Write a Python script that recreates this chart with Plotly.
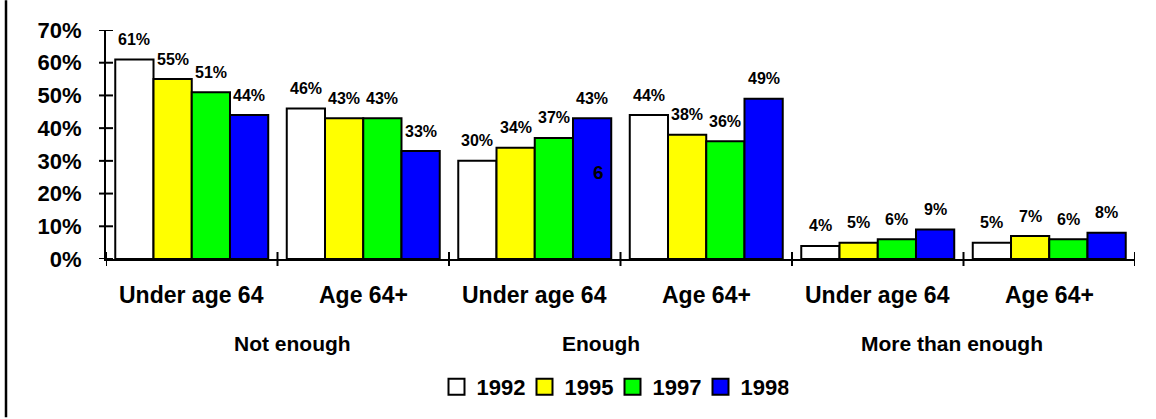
import plotly.graph_objects as go

subcats = ["Under age 64", "Age 64+", "Under age 64", "Age 64+", "Under age 64", "Age 64+"]
maincats = ["Not enough", "Enough", "More than enough"]
years = ["1992", "1995", "1997", "1998"]
v1992 = [61, 46, 30, 44, 4, 5]
v1995 = [55, 43, 34, 38, 5, 7]
v1997 = [51, 43, 37, 36, 6, 6]
v1998 = [44, 33, 43, 49, 9, 8]
series = [v1992, v1995, v1997, v1998]
colors = ["#FFFFFF", "#FFFF00", "#00FF00", "#0000FF"]
yticks = [0, 10, 20, 30, 40, 50, 60, 70]

FONT = "Liberation Sans, Arial, sans-serif"
BARGAP = 0.108
bw = (1 - BARGAP) / len(years)
main_shift = [15, -20, -12]

fig = go.Figure()
xs = list(range(len(subcats)))
for name, vals, c in zip(years, series, colors):
    fig.add_trace(go.Bar(x=xs, y=vals, name=name, marker=dict(color=c, line=dict(color="black", width=2)),
                         showlegend=False, hoverinfo="skip"))
    fig.add_trace(go.Scatter(x=[None], y=[None], mode="markers", name=name,
                             marker=dict(symbol="square", size=16, color=c, line=dict(color="black", width=2))))

ann = []
for j, vals in enumerate(series):
    for i, v in enumerate(vals):
        ann.append(dict(x=i + (j - 1.5) * bw, y=v, xref="x", yref="y", text=f"{v}%", showarrow=False,
                        yanchor="middle", yshift=20, font=dict(family=FONT, size=16, color="black", weight="bold")))
# stray label in the reference
ann.append(dict(x=2 + 1.5 * bw, y=26.5, xref="x", yref="y", text="6", showarrow=False, xshift=6,
                font=dict(family=FONT, size=19, color="black", weight="bold")))
for i, s in enumerate(subcats):
    ann.append(dict(x=i, y=0, xref="x", yref="paper", text=s, showarrow=False, yanchor="middle", yshift=-36,
                    font=dict(family=FONT, size=23, color="black", weight="bold")))
for k, m in enumerate(maincats):
    ann.append(dict(x=2 * k + 0.5, y=0, xref="x", yref="paper", text=m, showarrow=False, yanchor="middle",
                    yshift=-84, xshift=main_shift[k],
                    font=dict(family=FONT, size=21, color="black", weight="bold")))

shapes = []
for t in yticks:
    shapes.append(dict(type="line", xref="paper", xsizemode="pixel", xanchor=0, x0=-7, x1=7,
                       yref="y", y0=t, y1=t, line=dict(color="black", width=2)))
for b in [i - 0.5 for i in range(len(subcats) + 1)]:
    shapes.append(dict(type="line", yref="paper", ysizemode="pixel", yanchor=0, y0=-7, y1=7,
                       xref="x", x0=b, x1=b, line=dict(color="black", width=2)))
shapes.append(dict(type="line", xref="paper", xsizemode="pixel", xanchor=0, x0=-100, x1=-100,
                   yref="paper", y0=-159 / 230, y1=260 / 230, line=dict(color="black", width=2.5)))

fig.update_layout(
    width=1156, height=419,
    margin=dict(l=106, r=21, t=30, b=159),
    plot_bgcolor="white", paper_bgcolor="white",
    barmode="group", bargap=BARGAP, bargroupgap=0,
    hovermode=False,
    xaxis=dict(range=[-0.5, 5.5], showticklabels=False, ticks="", showgrid=False, zeroline=False,
               showline=True, linecolor="black", linewidth=2, fixedrange=True),
    yaxis=dict(range=[0, 70], tickvals=yticks, ticktext=[f"{t}%" for t in yticks], ticks="",
               showgrid=False, zeroline=False, showline=True, linecolor="black", linewidth=2, fixedrange=True,
               ticklabelstandoff=18, tickfont=dict(family=FONT, size=22, color="black", weight="bold")),
    legend=dict(orientation="h", x=0.5 - 8 / 1029, xanchor="center", y=-127 / 230, yanchor="middle",
                font=dict(family=FONT, size=22, color="black", weight="bold"),
                entrywidth=43, entrywidthmode="pixels", itemclick=False, itemdoubleclick=False),
    annotations=ann, shapes=shapes,
)
fig.write_html("out.html", post_script="document.body.style.margin='0';",
               config={"displayModeBar": False})
